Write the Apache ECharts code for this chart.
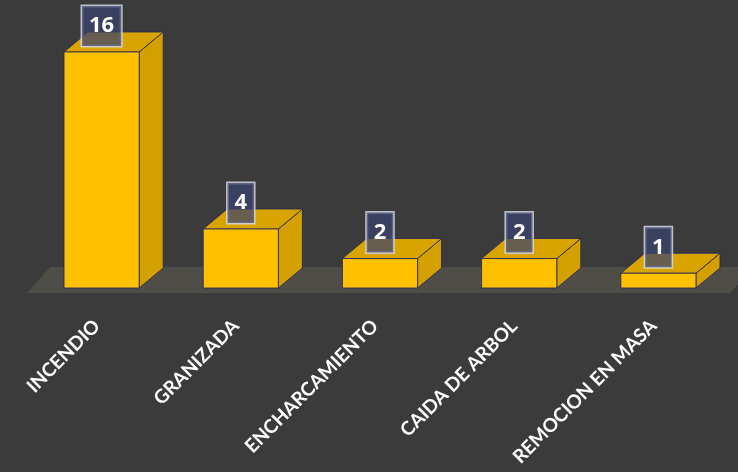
<!DOCTYPE html>
<html>
<head>
<meta charset="utf-8">
<script src="https://cdn.jsdelivr.net/npm/echarts@6/dist/echarts.min.js"></script>
<style>
html,body{margin:0;padding:0;background:#3b3b3b;}
#chart{width:738px;height:472px;}
</style>
</head>
<body>
<div id="chart"></div>
<script>
const categories = ['INCENDIO', 'GRANIZADA', 'ENCHARCAMIENTO', 'CAIDA DE ARBOL', 'REMOCION EN MASA'];
const values = [16, 4, 2, 2, 1];

const DEPTH_X = 24, DEPTH_Y = 20;

function renderBar(params, api) {
  const idx = api.value(0);
  const val = api.value(1);
  const top = api.coord([idx, val]);
  const base = api.coord([idx, 0]);
  const bw = api.size([1, 0])[0] * 0.54;
  const x0 = top[0] - bw / 2, x1 = top[0] + bw / 2;
  const ty = top[1], by = base[1];
  const edge = 'rgba(40,40,90,0.85)';
  return {
    type: 'group',
    children: [
      {
        type: 'polygon',
        shape: { points: [[x1, ty], [x1 + DEPTH_X, ty - DEPTH_Y], [x1 + DEPTH_X, by - DEPTH_Y], [x1, by]] },
        style: { fill: '#D3A000', stroke: edge, lineWidth: 1 }
      },
      {
        type: 'polygon',
        shape: { points: [[x0, ty], [x1, ty], [x1 + DEPTH_X, ty - DEPTH_Y], [x0 + DEPTH_X, ty - DEPTH_Y]] },
        style: { fill: '#D9A400', stroke: edge, lineWidth: 1 }
      },
      {
        type: 'rect',
        shape: { x: x0, y: ty, width: bw, height: by - ty },
        style: { fill: '#FFC000', stroke: edge, lineWidth: 1 }
      },
      {
        type: 'text',
        style: {
          text: String(val),
          x: top[0],
          y: ty - 6,
          align: 'center',
          verticalAlign: 'bottom',
          fill: '#ffffff',
          font: 'bold 22px "Open Sans", sans-serif',
          backgroundColor: 'rgba(58,66,110,0.72)',
          borderColor: 'rgba(215,215,225,0.85)',
          borderWidth: 1.5,
          padding: [9, 7, 9, 7]
        }
      }
    ]
  };
}

function renderFloor(params, api) {
  const cs = params.coordSys;
  const b = api.coord([0, 0])[1];
  const xl = cs.x, xr = cs.x + cs.width;
  return {
    type: 'polygon',
    shape: { points: [[xl - 5, b + 5], [xr + 2, b + 5], [xr + 2 + DEPTH_X, b - DEPTH_Y - 1], [xl + 18, b - DEPTH_Y - 1]] },
    style: { fill: '#4e4d48' }
  };
}

const chart = echarts.init(document.getElementById('chart'), null, { renderer: 'canvas' });
chart.setOption({
  backgroundColor: '#3b3b3b',
  animation: false,
  grid: { left: 32, right: 10, top: 52, bottom: 184 },
  xAxis: {
    type: 'category',
    data: categories,
    axisLine: { show: false },
    axisTick: { show: false },
    axisLabel: {
      rotate: 45,
      margin: 30,
      padding: [0, 7, 0, 0],
      color: '#ffffff',
      fontSize: 19,
      fontWeight: 'bold',
      fontFamily: 'Lato'
    }
  },
  yAxis: {
    type: 'value',
    min: 0,
    max: 16,
    show: false,
    splitLine: { show: false }
  },
  series: [
    {
      type: 'custom',
      name: 'floor',
      renderItem: renderFloor,
      data: [[0, 0]],
      z: 1,
      silent: true
    },
    {
      type: 'custom',
      name: 'eventos',
      renderItem: renderBar,
      data: values.map((v, i) => [i, v]),
      clip: false,
      z: 2
    }
  ]
});
</script>
</body>
</html>
